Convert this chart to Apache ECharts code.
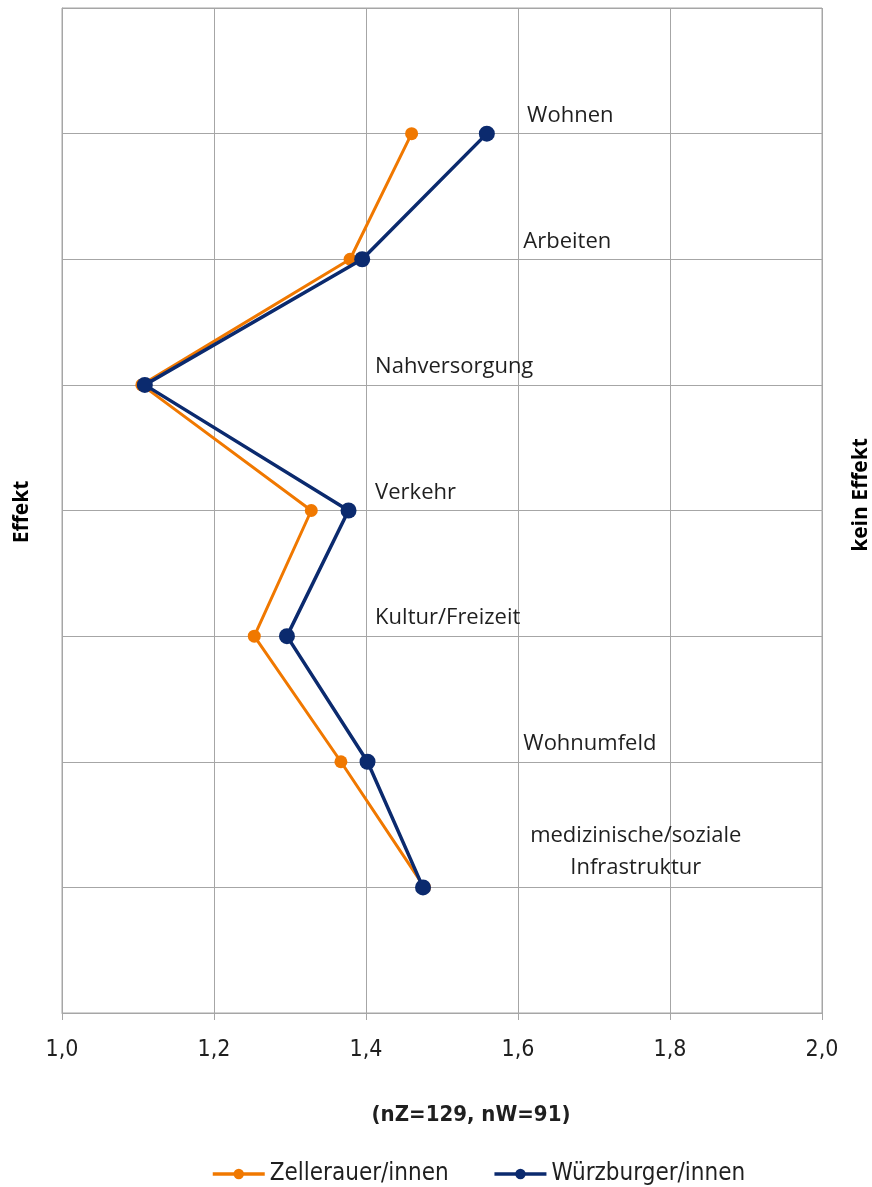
<!DOCTYPE html>
<html>
<head>
<meta charset="utf-8">
<title>Effekt nach Lebensbereichen</title>
<script src="https://cdn.jsdelivr.net/npm/echarts@6/dist/echarts.min.js"></script>
<style>
  html, body { margin: 0; padding: 0; background: #ffffff; }
  #chart { width: 872px; height: 1187px; }
</style>
</head>
<body>
<div id="chart"></div>
<script>
// Lebensbereiche, von oben nach unten
const categories = [
  'Wohnen',
  'Arbeiten',
  'Nahversorgung',
  'Verkehr',
  'Kultur/Freizeit',
  'Wohnumfeld',
  'medizinische/soziale\nInfrastruktur'
];
// Zeilenposition auf der senkrechten Achse (oben = 7)
const rowPos = [7, 6, 5, 4, 3, 2, 1];

// Mittelwerte je Gruppe
const zellerauer  = [1.46, 1.379, 1.105, 1.328, 1.253, 1.367, 1.477];
const wuerzburger = [1.559, 1.395, 1.109, 1.377, 1.296, 1.402, 1.475];

// Achsenbeschriftung unten
const xTicks = [1.0, 1.2, 1.4, 1.6, 1.8, 2.0];

// Ankerpunkte der Bereichsbeschriftungen (Werte auf der x-Achse)
const labelAnchorX = [1.612, 1.607, 1.412, 1.412, 1.412, 1.607, 1.755];

const gridColor = '#a6a6a6';
const textColor = '#1f1f1f';
const tickFont = '"Liberation Sans Narrow", "DejaVu Sans Condensed", "Open Sans", sans-serif';

const chart = echarts.init(document.getElementById('chart'), null, { renderer: 'canvas' });

const pairs = (xs) => xs.map((v, i) => [v, rowPos[i]]);

const labelData = categories.map((name, i) => {
  const multi = name.indexOf('\n') >= 0;
  return {
    value: [labelAnchorX[i], rowPos[i]],
    name: name,
    label: multi
      ? { align: 'center', offset: [0, -36], lineHeight: 32 }
      : { align: 'left', offset: [0, -18] }
  };
});

chart.setOption({
  animation: false,
  backgroundColor: '#ffffff',
  grid: {
    left: 62, right: 50, top: 8, bottom: 174,
    show: true, borderColor: gridColor, borderWidth: 1, backgroundColor: 'transparent'
  },
  xAxis: {
    type: 'value',
    min: 1.0, max: 2.0, interval: 0.2,
    axisLine: { show: true, lineStyle: { color: gridColor, width: 1 } },
    axisTick: { show: true, length: 7, lineStyle: { color: gridColor } },
    splitLine: { show: true, lineStyle: { color: gridColor, width: 1 } },
    axisLabel: {
      margin: 26,
      fontFamily: tickFont, fontSize: 23, color: textColor,
      formatter: (v) => {
        const t = xTicks.find(x => Math.abs(x - v) < 1e-6);
        return t === undefined ? '' : t.toFixed(1).replace('.', ',');
      }
    },
    name: '(nZ=129, nW=91)',
    nameLocation: 'middle',
    nameGap: 91,
    nameTextStyle: {
      fontFamily: tickFont, fontWeight: 'bold', fontSize: 22, color: textColor,
      padding: [0, 0, 0, 58]
    }
  },
  yAxis: {
    type: 'value',
    min: 0, max: 8, interval: 1,
    axisLine: { show: true, lineStyle: { color: gridColor } },
    axisTick: { show: false },
    axisLabel: { show: false },
    splitLine: { show: true, lineStyle: { color: gridColor, width: 1 } }
  },
  legend: {
    top: 1157,
    left: 206,
    itemWidth: 52,
    itemHeight: 13,
    itemGap: 44,
    lineStyle: { width: 3.5 },
    textStyle: { fontFamily: tickFont, fontSize: 24, color: textColor },
    data: ['Zellerauer/innen', 'Würzburger/innen']
  },
  graphic: [
    {
      type: 'text', rotation: Math.PI / 2,
      x: 22, y: 512,
      style: {
        text: 'Effekt', fill: '#000000',
        font: 'bold 21px "Open Sans", sans-serif',
        textAlign: 'center', textVerticalAlign: 'middle'
      }
    },
    {
      type: 'text', rotation: Math.PI / 2,
      x: 861, y: 495,
      style: {
        text: 'kein Effekt', fill: '#000000',
        font: 'bold 21px "Open Sans", sans-serif',
        textAlign: 'center', textVerticalAlign: 'middle'
      }
    }
  ],
  series: [
    {
      name: 'Zellerauer/innen',
      type: 'line',
      data: pairs(zellerauer),
      symbol: 'circle',
      symbolSize: 13,
      lineStyle: { color: '#F07800', width: 3 },
      itemStyle: { color: '#F07800' },
      z: 3
    },
    {
      name: 'Würzburger/innen',
      type: 'line',
      data: pairs(wuerzburger),
      symbol: 'circle',
      symbolSize: 16,
      lineStyle: { color: '#0B2A6E', width: 3.5 },
      itemStyle: { color: '#0B2A6E' },
      z: 4
    },
    {
      name: 'Bereiche',
      type: 'scatter',
      data: labelData,
      symbolSize: 1,
      itemStyle: { color: 'rgba(0,0,0,0)', opacity: 1 },
      silent: true,
      label: {
        show: true,
        position: 'inside',
        formatter: (p) => p.name,
        fontFamily: '"Open Sans", sans-serif',
        fontSize: 22,
        color: textColor,
        opacity: 1,
        textBorderWidth: 0,
        verticalAlign: 'middle'
      },
      z: 5
    }
  ]
});
</script>
</body>
</html>
